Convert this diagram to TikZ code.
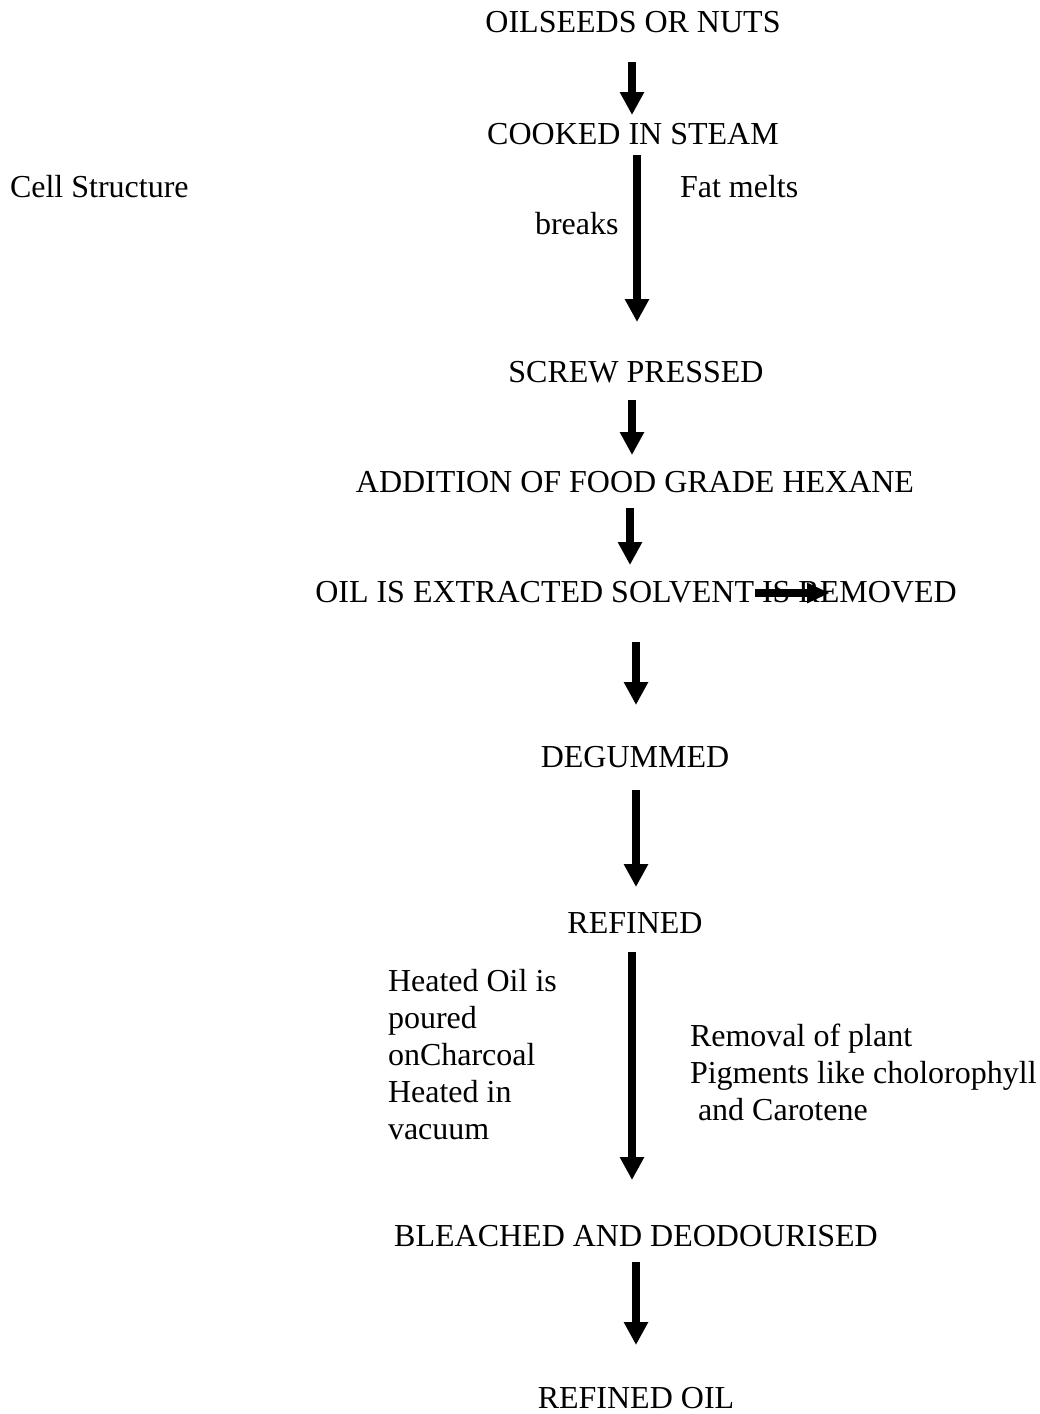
\documentclass[tikz,border=0pt]{standalone}
\usepackage{fontspec}
\setmainfont{Liberation Serif}
\usetikzlibrary{arrows.meta}
\begin{document}
\begin{tikzpicture}[x=1pt,y=-1pt,
  every node/.style={inner sep=0pt,outer sep=0pt,font=\fontsize{32}{37}\selectfont},
  stage/.style={anchor=center},
  note/.style={anchor=west},
  notes/.style={anchor=north west,align=left},
  flow/.style={line width=8pt,-{Triangle[length=23pt,width=23pt]}},
  sideflow/.style={line width=8pt,-{Triangle[length=23pt,width=19pt]}}]
\useasboundingbox[fill=white] (0,0) rectangle (1040,1414);

% process stages
\node[stage] (s1) at (633,22) {OILSEEDS OR NUTS};
\node[stage] (s2) at (633,134) {COOKED IN STEAM};
\node[stage] (s3) at (636,372) {SCREW PRESSED};
\node[stage] (s4) at (635,482) {ADDITION OF FOOD GRADE HEXANE};
\node[stage] (s5) at (636,592) {OIL IS EXTRACTED SOLVENT IS REMOVED};
\node[stage] (s6) at (635,757) {DEGUMMED};
\node[stage] (s7) at (635,923) {REFINED};
\node[stage] (s8) at (636,1236) {BLEACHED AND DEODOURISED};
\node[stage] (s9) at (636,1398) {REFINED OIL};

% side notes
\node[note] (cell) at (10,187) {Cell Structure};
\node[note] (fat) at (680,187) {Fat melts};
\node[note] (brk) at (535,224) {breaks};
\node[notes] (heat) at (388,969) {Heated Oil is\\poured\\onCharcoal\\Heated in\\vacuum};
\node[notes] (pig) at (690,1024) {Removal of plant\\Pigments like cholorophyll\\\ and Carotene};

% arrow ends
\coordinate (a1s) at (632,62);   \coordinate (a1e) at (632,115);
\coordinate (a2s) at (637,155);  \coordinate (a2e) at (637,322);
\coordinate (a3s) at (632,400);  \coordinate (a3e) at (632,455);
\coordinate (a4s) at (630,508);  \coordinate (a4e) at (630,565);
\coordinate (a5s) at (636,642);  \coordinate (a5e) at (636,705);
\coordinate (a6s) at (636,790);  \coordinate (a6e) at (636,887);
\coordinate (a7s) at (632,952);  \coordinate (a7e) at (632,1180);
\coordinate (a8s) at (636,1262); \coordinate (a8e) at (636,1345);
\coordinate (hs) at (755,593);   \coordinate (he) at (830,593);

% connectors
\draw[flow] (a1s) -- (a1e);
\draw[flow] (a2s) -- (a2e);
\draw[flow] (a3s) -- (a3e);
\draw[flow] (a4s) -- (a4e);
\draw[flow] (a5s) -- (a5e);
\draw[flow] (a6s) -- (a6e);
\draw[flow] (a7s) -- (a7e);
\draw[flow] (a8s) -- (a8e);
\draw[sideflow] (hs) -- (he);
\end{tikzpicture}
\end{document}
